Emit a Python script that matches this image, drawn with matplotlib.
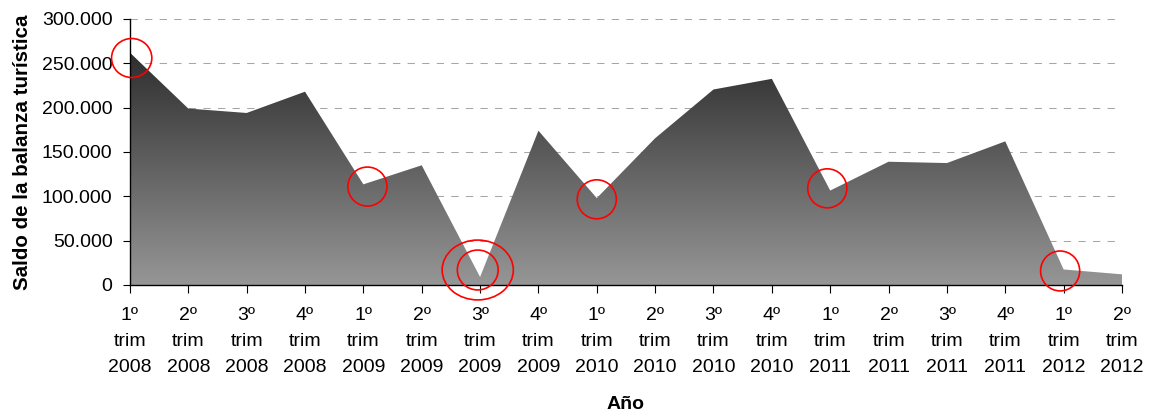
import matplotlib.pyplot as plt
import numpy as np
from matplotlib.patches import Ellipse
from matplotlib.ticker import FuncFormatter

plt.rcParams['font.family'] = ['Liberation Sans', 'DejaVu Sans']

trimestres = ["1º", "2º", "3º", "4º", "1º", "2º", "3º", "4º", "1º",
              "2º", "3º", "4º", "1º", "2º", "3º", "4º", "1º", "2º"]
anios = ["2008", "2008", "2008", "2008", "2009", "2009", "2009", "2009", "2010",
         "2010", "2010", "2010", "2011", "2011", "2011", "2011", "2012", "2012"]
saldo = [262000, 199000, 194000, 218000, 113500, 135000, 9000, 174000, 98000,
         165500, 220500, 232500, 106500, 139000, 137500, 162000, 17500, 12000]

# circulos rojos (centro x, centro y, ancho, alto) en unidades de datos
circ_x = [0.03, 4.07, 5.96, 5.96, 8.0, 11.95, 15.94]
circ_y = [256000, 111000, 16900, 16900, 96600, 109000, 15800]
circ_w = [0.69, 0.67, 0.70, 1.22, 0.67, 0.67, 0.67]
circ_h = [44000, 44000, 45000, 67500, 44000, 44000, 45000]


def miles(v, pos):
    return f"{int(v):,}".replace(",", ".")


fig = plt.figure(figsize=(11.53, 4.12), dpi=100)
ax = fig.add_axes([0.1127, 0.3083, 0.8604, 0.6456])

x = np.arange(len(saldo))
poly = ax.fill_between(x, 0, saldo, facecolor="none", edgecolor="none", zorder=2)

grad = np.linspace(0, 1, 256).reshape(-1, 1)
img = ax.imshow(grad, cmap=plt.matplotlib.colors.LinearSegmentedColormap.from_list(
    "g", ["#969696", "#2e2e2e"]), origin="lower", aspect="auto",
    extent=[0, len(saldo) - 1, 0, max(saldo)], zorder=2)
img.set_clip_path(poly.get_paths()[0], transform=ax.transData)

for cx, cy, w, h in zip(circ_x, circ_y, circ_w, circ_h):
    ax.add_patch(Ellipse((cx, cy), w, h, facecolor="none", edgecolor="#ff0000",
                         lw=1.2, zorder=5, clip_on=False))

ax.set_xlim(0, len(saldo) - 1)
ax.set_ylim(0, 300000)
ax.set_yticks(np.arange(0, 300001, 50000))
ax.yaxis.set_major_formatter(FuncFormatter(miles))
ax.yaxis.grid(True, color="#a6a6a6", linestyle=(0, (7, 7)), lw=0.75, zorder=0)
ax.set_axisbelow(True)

ax.set_xticks(x)
ax.set_xticklabels([f"{t}\ntrim\n{a}" for t, a in zip(trimestres, anios)], linespacing=1.72)
ax.tick_params(axis="x", length=6, pad=9.5, labelsize=14, color="black")
ax.tick_params(axis="y", length=5, pad=7.5, labelsize=14, color="black")

for s in ["top", "right"]:
    ax.spines[s].set_visible(False)
for s in ["left", "bottom"]:
    ax.spines[s].set_color("black")
    ax.spines[s].set_linewidth(1)

ax.set_ylabel("Saldo de la balanza turística", fontsize=14.8, fontweight="bold", labelpad=7)
ax.set_xlabel("Año", fontsize=14, fontweight="bold", labelpad=14)

fig.savefig("out.png", dpi=100)
